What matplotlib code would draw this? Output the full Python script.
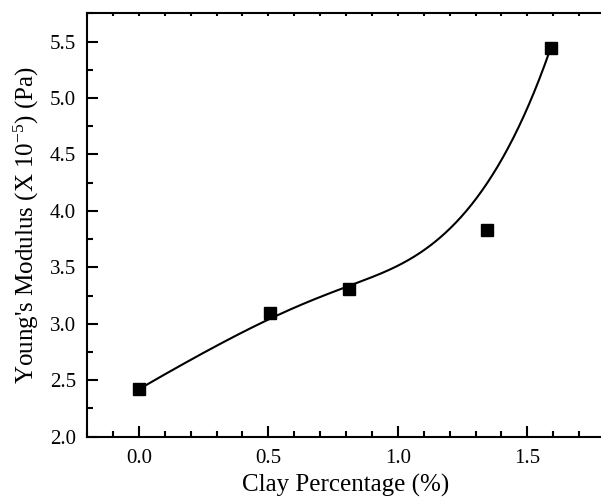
import numpy as np
import matplotlib
matplotlib.use("Agg")
import matplotlib.pyplot as plt
from matplotlib.ticker import MultipleLocator

clay_pct = [0.0, 0.506, 0.81, 1.346, 1.59]
youngs_modulus = [2.42, 3.093, 3.308, 3.83, 5.44]
x_ticks = [0.0, 0.5, 1.0, 1.5]
y_ticks = [2.0, 2.5, 3.0, 3.5, 4.0, 4.5, 5.0, 5.5]

plt.rcParams['font.family'] = ['Liberation Serif', 'DejaVu Serif']
plt.rcParams['mathtext.fontset'] = 'custom'
plt.rcParams['mathtext.rm'] = 'Liberation Serif'
plt.rcParams['mathtext.it'] = 'Liberation Serif:italic'


def bspline(px, py, k=3, n=300):
    """Clamped B-spline using the data points as control points."""
    P = np.column_stack([px, py])
    m = len(P)
    inner = np.linspace(0, 1, m - k + 1)[1:-1]
    t = np.concatenate([np.zeros(k + 1), inner, np.ones(k + 1)])
    us = np.linspace(0, 1, n)
    out = []
    for u in us:
        N = np.zeros(len(t) - 1)
        for i in range(len(t) - 1):
            if (t[i] <= u < t[i + 1]) or (u == 1.0 and t[i] < u <= t[i + 1]):
                N[i] = 1.0
        for d in range(1, k + 1):
            Nn = np.zeros(len(t) - 1 - d)
            for i in range(len(Nn)):
                a = 0.0
                if t[i + d] != t[i]:
                    a = (u - t[i]) / (t[i + d] - t[i]) * N[i]
                b = 0.0
                if t[i + d + 1] != t[i + 1]:
                    b = (t[i + d + 1] - u) / (t[i + d + 1] - t[i + 1]) * N[i + 1]
                Nn[i] = a + b
            N = Nn
        out.append(N[:m] @ P)
    out = np.array(out)
    return out[:, 0], out[:, 1]


fig = plt.figure(figsize=(6.01, 5.04), dpi=100)
ax = fig.add_axes([87 / 601, 67.3 / 504, (605 - 87) / 601, (436.7 - 13.3) / 504])

cx, cy = bspline(clay_pct, youngs_modulus)
ax.plot(cx, cy, color='black', lw=1.5, zorder=2)
ax.plot(clay_pct, youngs_modulus, linestyle='none', marker='s', ms=9,
        color='black', zorder=3)

ax.set_xlim(-0.2, 1.8)
ax.set_ylim(2.0, 5.75)
ax.set_xticks(x_ticks)
ax.set_yticks(y_ticks)
ax.xaxis.set_minor_locator(MultipleLocator(0.1))
ax.yaxis.set_minor_locator(MultipleLocator(0.25))
ax.set_xticklabels([f"{v:.1f}" for v in x_ticks])
ax.set_yticklabels([f"{v:.1f}" for v in y_ticks])

for s in ax.spines.values():
    s.set_linewidth(1.5)

ax.tick_params(axis='both', which='major', direction='in', length=8, width=1.5,
               labelsize=15)
ax.tick_params(axis='x', which='major', pad=9)
ax.tick_params(axis='y', which='major', pad=8)
ax.tick_params(axis='both', which='minor', direction='in', length=4.5, width=1.5)
ax.tick_params(axis='x', which='both', top=True, labeltop=False)
for tl in ax.xaxis.get_major_ticks() + ax.xaxis.get_minor_ticks():
    tl.tick2line.set_markersize(2)
ax.tick_params(axis='y', which='both', right=False)

ax.set_xlabel('Clay Percentage (%)', fontsize=18, labelpad=4)
ax.set_ylabel(r"Young's Modulus (X 10$^{\mathrm{-5}}$) (Pa)", fontsize=18, labelpad=6)

fig.savefig('out.png', dpi=100)
